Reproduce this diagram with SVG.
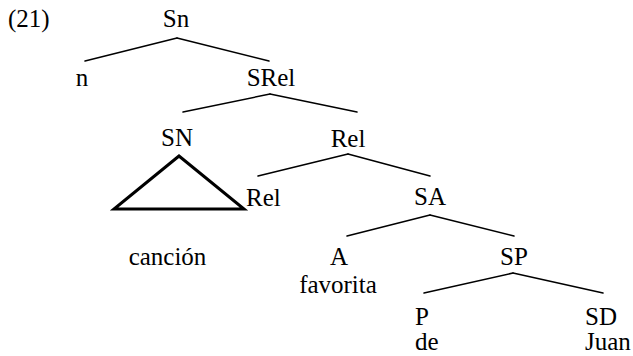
<svg xmlns="http://www.w3.org/2000/svg" width="633" height="356" viewBox="0 0 633 356">
<style>
text{font-family:'Liberation Serif','DejaVu Serif',serif;font-size:25px;fill:#000}
.c{text-anchor:middle}
.e{stroke:#000;stroke-width:1.5;fill:none;stroke-linecap:round}
.tri{stroke:#000;stroke-width:3;fill:none;stroke-linejoin:miter}
</style>
<rect width="633" height="356" fill="#fff"/>
<text x="8" y="27">(21)</text>
<g id="connectors">
<line class="e" x1="177" y1="38" x2="85" y2="61"/>
<line class="e" x1="177" y1="38" x2="269" y2="61"/>
<line class="e" x1="270" y1="94" x2="183" y2="112"/>
<line class="e" x1="270" y1="94" x2="357" y2="112"/>
<line class="e" x1="348" y1="154" x2="258" y2="176"/>
<line class="e" x1="348" y1="154" x2="430" y2="176"/>
<line class="e" x1="430" y1="215" x2="347" y2="236"/>
<line class="e" x1="430" y1="215" x2="514" y2="236"/>
<line class="e" x1="513" y1="273" x2="424" y2="293"/>
<line class="e" x1="513" y1="273" x2="603" y2="293"/>
</g>
<g id="node-Sn"><text class="c" x="176" y="27">Sn</text></g>
<g id="node-n"><text class="c" x="82" y="86">n</text></g>
<g id="node-SRel"><text class="c" x="271" y="86">SRel</text></g>
<g id="node-SN"><text class="c" x="177" y="146">SN</text>
<polygon class="tri" points="179,156 114,209 244,209"/>
<text class="c" x="167.5" y="265">canción</text></g>
<g id="node-Rel1"><text class="c" x="348" y="147">Rel</text></g>
<g id="node-Rel2"><text x="246" y="206">Rel</text></g>
<g id="node-SA"><text class="c" x="430" y="205">SA</text></g>
<g id="node-A"><text class="c" x="339" y="265">A</text><text class="c" x="338" y="293">favorita</text></g>
<g id="node-SP"><text class="c" x="514" y="265">SP</text></g>
<g id="node-P"><text x="415" y="325">P</text><text x="415" y="350">de</text></g>
<g id="node-SD"><text x="585" y="325">SD</text><text x="585" y="350">Juan</text></g>
</svg>
